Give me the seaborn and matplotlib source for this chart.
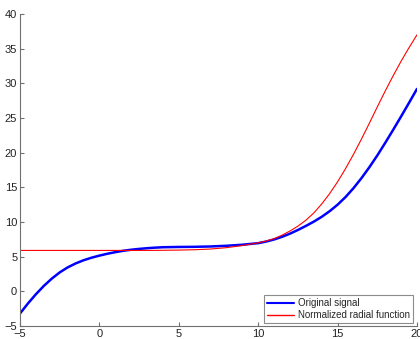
import matplotlib
matplotlib.use("Agg")
import matplotlib.pyplot as plt
import seaborn as sns
import pandas as pd

# Data
x_orig = [-5, -4.5, -4, -3.5, -3, -2.5, -2, -1.5, -1, -0.5, 0, 0.5, 1, 1.5, 2, 2.5, 3, 3.5, 4, 5, 6,
          7, 8, 9, 10, 10.5, 11, 11.5, 12, 12.5, 13, 13.5, 14, 14.5, 15, 15.5, 16, 16.5, 17, 17.5,
          18, 18.5, 19, 19.5, 20]
y_orig = [-3.2, -1.75, -0.42, 0.78, 1.83, 2.73, 3.45, 4.02, 4.48, 4.85, 5.15, 5.42, 5.65, 5.85, 6.0,
          6.12, 6.22, 6.3, 6.36, 6.4, 6.42, 6.47, 6.57, 6.72, 6.95, 7.18, 7.48, 7.86, 8.32, 8.85,
          9.43, 10.05, 10.75, 11.56, 12.5, 13.6, 14.88, 16.32, 17.9, 19.6, 21.42, 23.3, 25.23,
          27.2, 29.2]

x_norm = [-5, -4, -3, -2, -1, 0, 1, 2, 3, 4, 5, 6, 7, 8, 9, 10, 10.5, 11, 11.5, 12, 12.5, 13, 13.5,
          14, 14.5, 15, 15.5, 16, 16.5, 17, 17.5, 18, 18.5, 19, 19.5, 20]
y_norm = [5.9, 5.9, 5.9, 5.9, 5.9, 5.9, 5.9, 5.9, 5.9, 5.92, 5.95, 6.0, 6.1, 6.3, 6.6, 7.0, 7.25,
          7.6, 8.1, 8.7, 9.4, 10.25, 11.3, 12.6, 14.1, 15.8, 17.7, 19.75, 21.95, 24.25, 26.6, 28.9,
          31.1, 33.2, 35.15, 37.0]

labels = ["Original signal", "Normalized radial function"]
x_ticks = [-5, 0, 5, 10, 15, 20]
y_ticks = [-5, 0, 5, 10, 15, 20, 25, 30, 35, 40]

sns.set_style("white")
plt.rcParams['font.family'] = ['Liberation Sans', 'DejaVu Sans']

df_o = pd.DataFrame({"x": x_orig, "y": y_orig})
df_n = pd.DataFrame({"x": x_norm, "y": y_norm})

fig = plt.figure(figsize=(4.2, 3.39), dpi=100)
ax = fig.add_axes([20/420, 13/339, 397/420, 312/339])

sns.lineplot(data=df_o, x="x", y="y", ax=ax, color="#0000ff", linewidth=1.8,
             label=labels[0], estimator=None, sort=False)
sns.lineplot(data=df_n, x="x", y="y", ax=ax, color="#ff0000", linewidth=0.8,
             label=labels[1], estimator=None, sort=False)

ax.set_xlim(-5, 20)
ax.set_ylim(-5, 40)
ax.set_xticks(x_ticks)
ax.set_yticks(y_ticks)
ax.set_xlabel("")
ax.set_ylabel("")

for s in ["top", "right"]:
    ax.spines[s].set_visible(False)
for s in ["left", "bottom"]:
    ax.spines[s].set_color("#707070")
    ax.spines[s].set_linewidth(0.8)

ax.tick_params(direction="in", length=3, width=0.8, color="#707070",
               labelsize=8, labelcolor="#222222", pad=2,
               bottom=True, left=True)

leg = ax.legend(loc="lower right", bbox_to_anchor=(0.99, 0.01), borderaxespad=0,
                fontsize=7, frameon=True, fancybox=False, handlelength=2.8,
                handletextpad=0.4, borderpad=0.3, labelspacing=0.2)
leg.get_frame().set_edgecolor("#707070")
leg.get_frame().set_linewidth(0.8)
for line in leg.get_lines():
    line.set_linewidth(1.5 if line.get_color() == "#0000ff" else 1.0)

fig.savefig("out.png", dpi=100)
